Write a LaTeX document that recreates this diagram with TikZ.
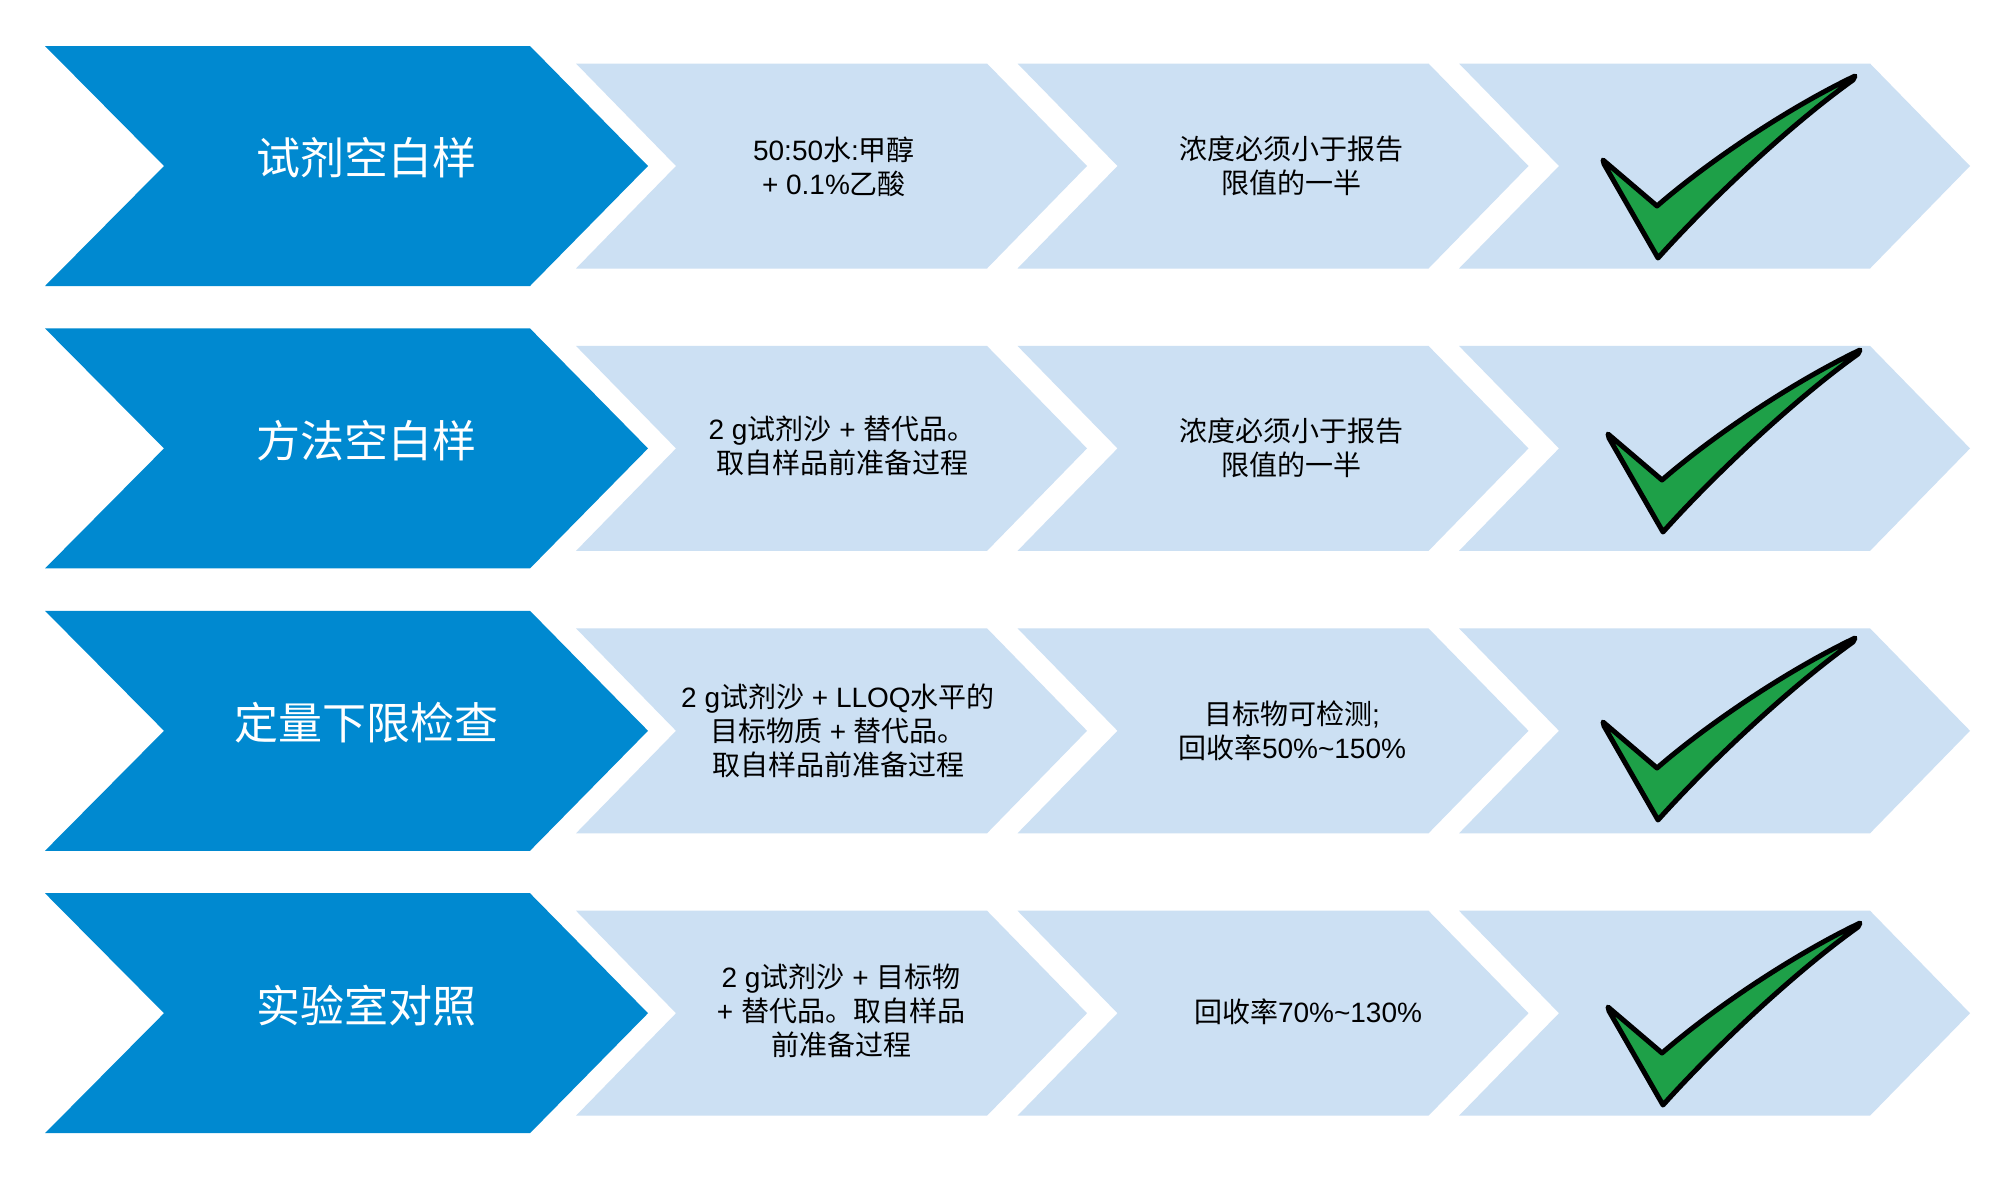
\documentclass[tikz,border=0pt]{standalone}
\usepackage{fontspec}
\setmainfont{Liberation Sans}
\newfontfamily\cjk{Noto Sans CJK SC}
\newcommand\zh[1]{{\cjk #1}}
\definecolor{chevblue}{RGB}{0,137,208}
\definecolor{chevlight}{RGB}{204,224,243}
\definecolor{tickgreen}{RGB}{30,160,72}
\begin{document}
\begin{tikzpicture}[x=1pt,y=-1pt,
  lbl/.style={text=white,font=\cjk\fontsize{44}{52}\selectfont,inner sep=0pt},
  txt/.style={text=black,font=\fontsize{28}{34}\selectfont,align=center,inner sep=0pt},
  tickmark/.style={fill=tickgreen,draw=black,line width=5pt,line join=round}]
\useasboundingbox (0,0) rectangle (2000,1184);
\fill[white] (0,0) rectangle (2000,1184);

\foreach \yc in {166,448.4,730.8,1013.2}{
  \fill[chevblue] (45,{\yc-120}) -- (530,{\yc-120}) -- (648,\yc) -- (530,{\yc+120}) -- (45,{\yc+120}) -- (164,\yc) -- cycle;
  \foreach \xl in {576,1017.5,1459}{
    \fill[chevlight] (\xl,{\yc-102.5}) -- ({\xl+411},{\yc-102.5}) -- ({\xl+511},\yc) -- ({\xl+411},{\yc+102.5}) -- (\xl,{\yc+102.5}) -- ({\xl+100},\yc) -- cycle;
  }
}

\foreach \dx/\dy in {0/0,5/274,0/562,5/847}{
  \begin{scope}[shift={(\dx,\dy)}]
    \filldraw[tickmark] (1603,160) -- (1657,206) .. controls (1710,160) and (1790,107) .. (1855,76) -- (1853,80) .. controls (1790,125) and (1710,200) .. (1658,258) -- (1604,164) -- cycle;
  \end{scope}
}

\node[lbl] (b1) at (366,158) {试剂空白样};
\node[lbl] (b2) at (366,440.4) {方法空白样};
\node[lbl] (b3) at (366,722.8) {定量下限检查};
\node[lbl] (b4) at (366,1005.2) {实验室对照};

\node[txt] (m1) at (834,167) {50:50\zh{水}:\zh{甲醇}\\+ 0.1\%\zh{乙酸}};
\node[txt] (m2) at (842,446) {2 g\zh{试剂沙} + \zh{替代品。}\\\zh{取自样品前准备过程}};
\node[txt] (m3) at (838,731) {2 g\zh{试剂沙} + LLOQ\zh{水平的}\\\zh{目标物质} + \zh{替代品。}\\\zh{取自样品前准备过程}};
\node[txt] (m4) at (841,1011) {2 g\zh{试剂沙} + \zh{目标物}\\+ \zh{替代品。取自样品}\\\zh{前准备过程}};

\node[txt] (c1) at (1291,166) {\zh{浓度必须小于报告}\\\zh{限值的一半}};
\node[txt] (c2) at (1291,448) {\zh{浓度必须小于报告}\\\zh{限值的一半}};
\node[txt] (c3) at (1292,731) {\zh{目标物可检测};\\\zh{回收率}50\%\textasciitilde150\%};
\node[txt] (c4) at (1308,1012) {\zh{回收率}70\%\textasciitilde130\%};
\end{tikzpicture}
\end{document}
